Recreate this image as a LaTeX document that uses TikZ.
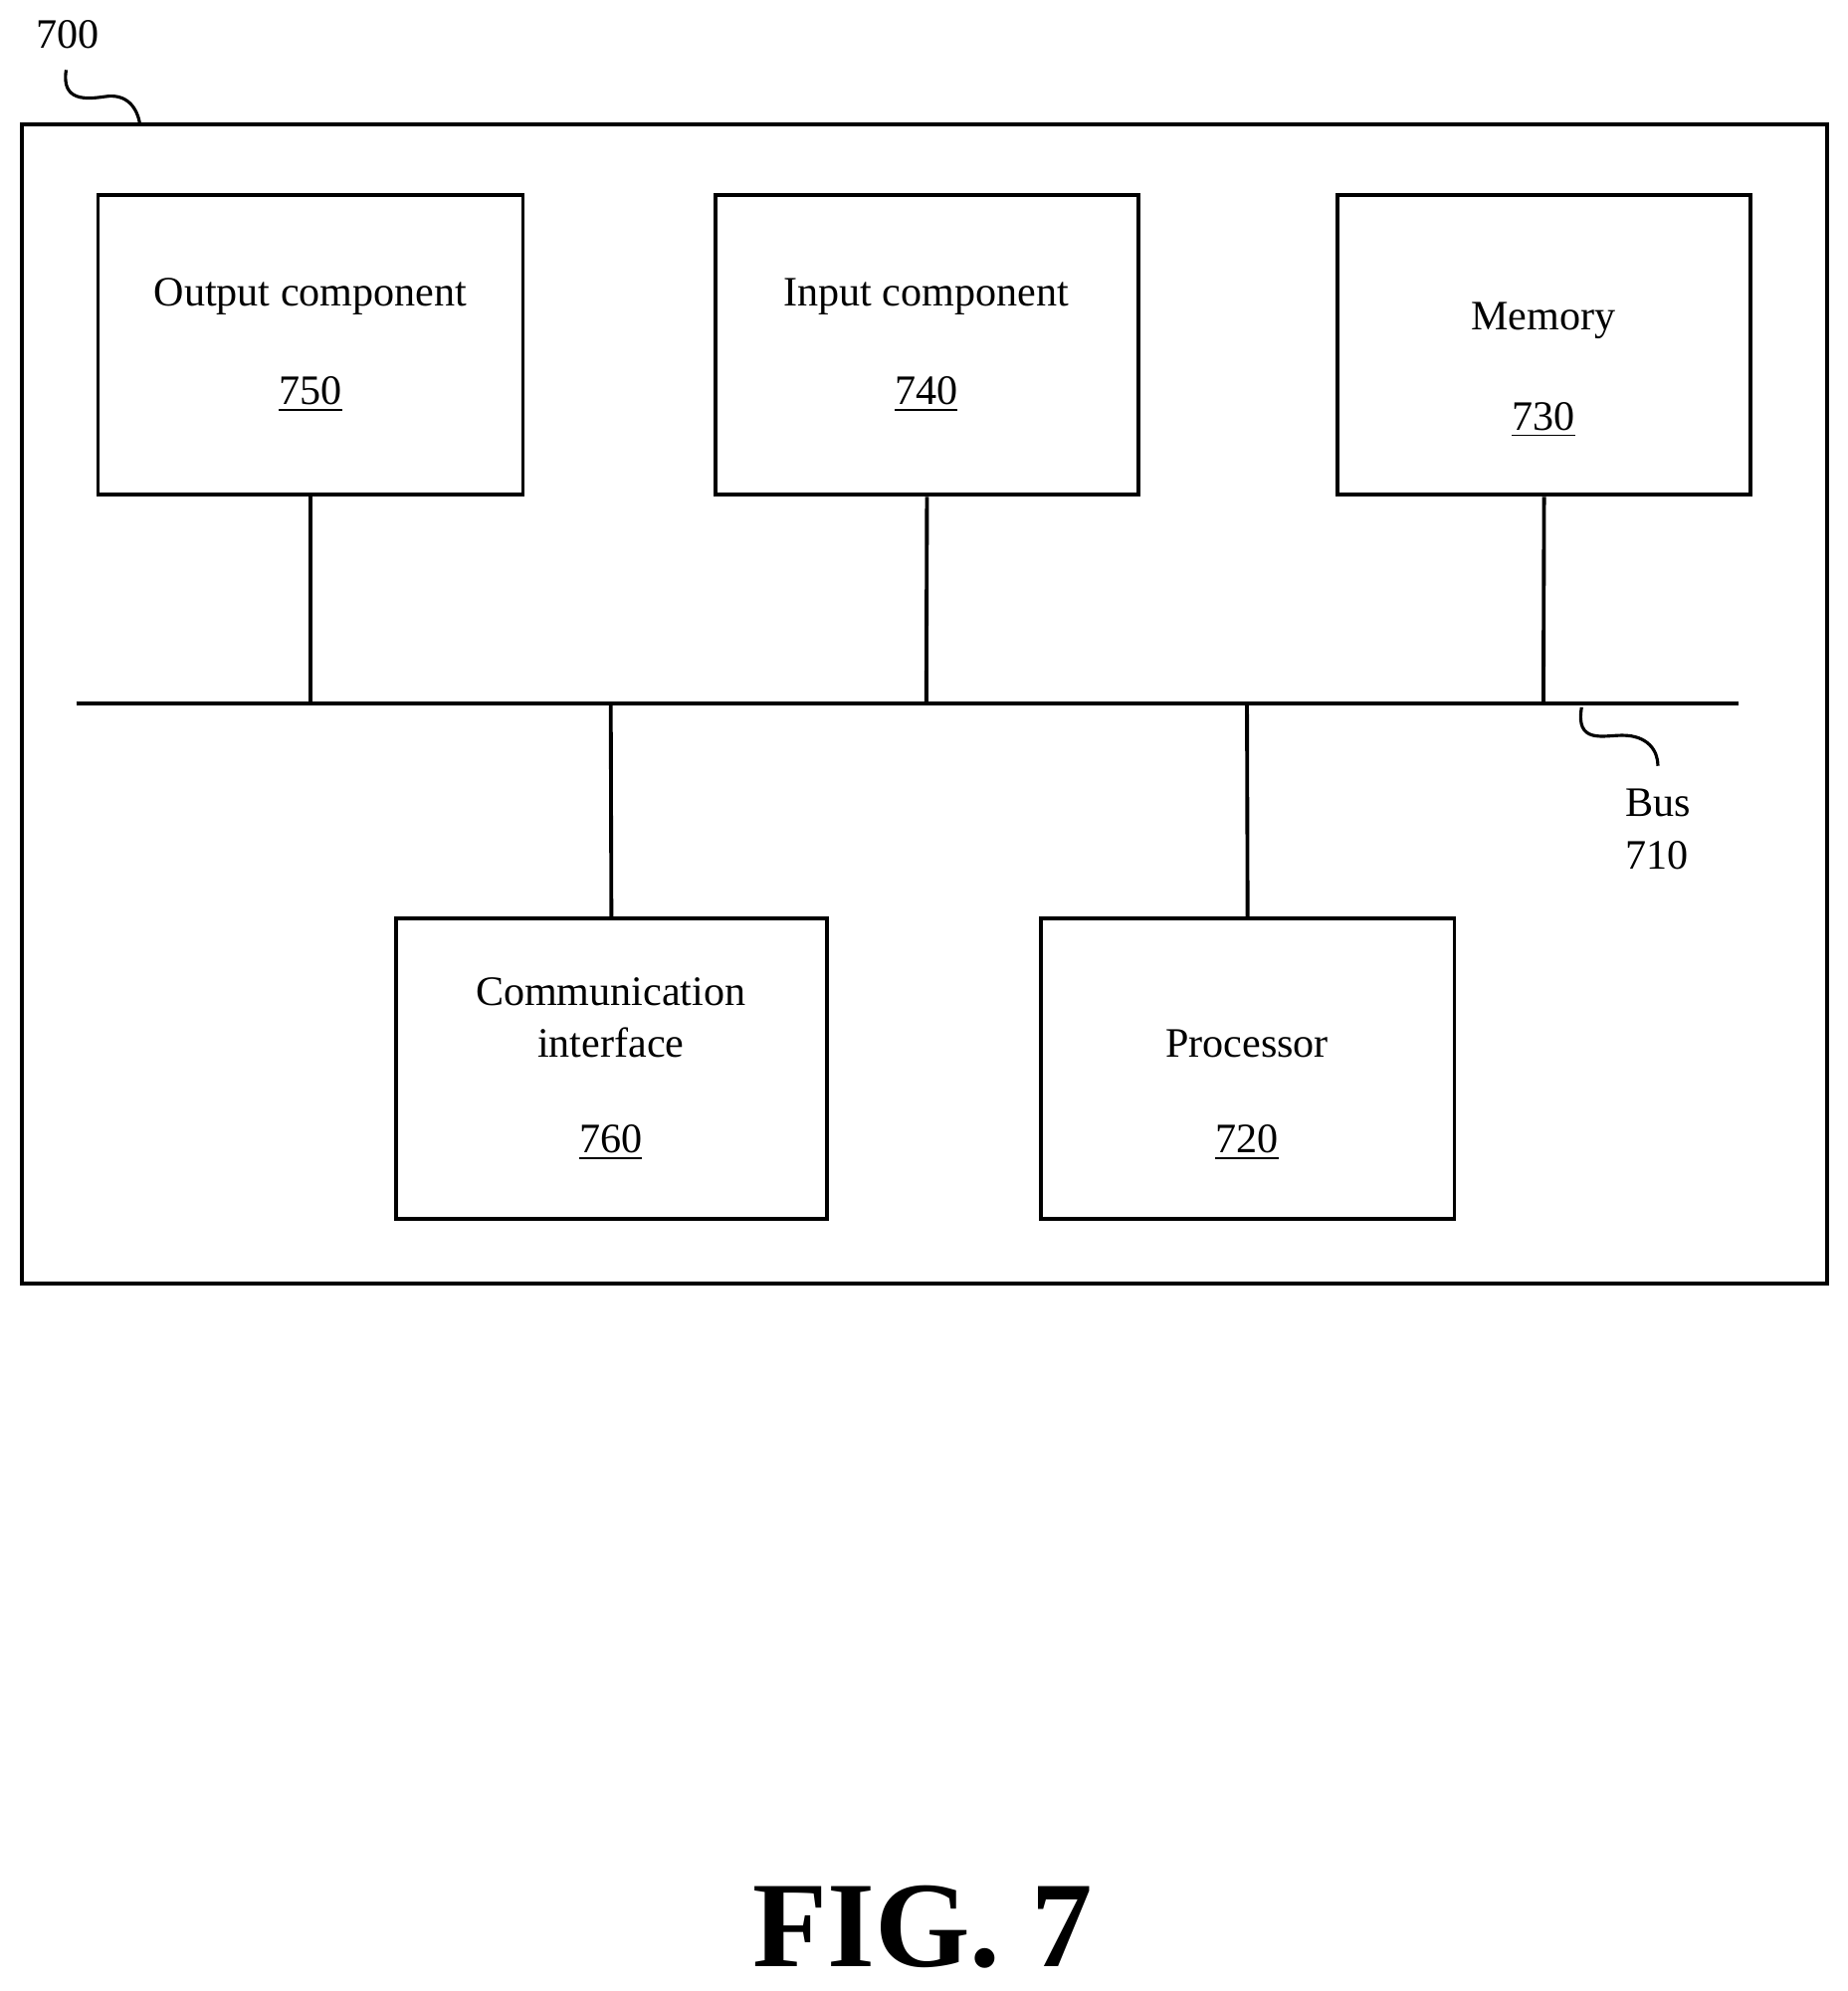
\documentclass[tikz,border=0pt]{standalone}
\usepackage{fontspec}
\setmainfont{Liberation Serif}
\begin{document}
\begin{tikzpicture}[x=0.0128cm,y=-0.0128cm,line width=1.1pt,
  box/.style={draw,rectangle},
  lbl/.style={font=\fontsize{12}{15}\selectfont,align=center,inner sep=0pt}]
\useasboundingbox (0,0) rectangle (1452,1565);
\node[box,minimum width=1419*0.0128cm,minimum height=911*0.0128cm] (sys) at (726.5,553.5) {};
\node[box,minimum width=334*0.0128cm,minimum height=236*0.0128cm] (out) at (244,271) {};
\node[box,minimum width=333*0.0128cm,minimum height=236*0.0128cm] (in) at (728.5,271) {};
\node[box,minimum width=325*0.0128cm,minimum height=236*0.0128cm] (mem) at (1213.5,271) {};
\node[box,minimum width=339*0.0128cm,minimum height=236*0.0128cm] (com) at (480.5,840) {};
\node[box,minimum width=325*0.0128cm,minimum height=236*0.0128cm] (proc) at (980.5,840) {};
\node[lbl] at (244,233) {Output component};
\node[lbl] at (244,310) {\underline{750}};
\node[lbl] at (728,233) {Input component};
\node[lbl] at (728,310) {\underline{740}};
\node[lbl] at (1213,252) {Memory};
\node[lbl] at (1213,330) {\underline{730}};
\node[lbl] at (480,800) {Communication\\interface};
\node[lbl] at (480,898) {\underline{760}};
\node[lbl] at (980,820) {Processor};
\node[lbl] at (980,898) {\underline{720}};
\coordinate (bl) at (60,553); \coordinate (br) at (1366,553);
\draw (bl) -- (br);
\draw (out.south) -- (244,553);
\draw (in.south) -- (728,553);
\draw (mem.south) -- (1213,553);
\draw (com.north) -- (480,553);
\draw (proc.north) -- (980,553);
\coordinate (b1) at (1243,556); \coordinate (b2) at (1303,602);
\draw[line width=0.9pt] (b1) .. controls (1238,585) and (1260,578) .. (1275,578) .. controls (1295,578) and (1303,590) .. (b2);
\node[lbl,align=left] (bus) at (1303,652) {Bus\\710};
\node[lbl] (n700) at (53,27) {700};
\coordinate (s1) at (52,55); \coordinate (s2) at (110,98);
\draw[line width=0.9pt] (s1) .. controls (48,80) and (68,78) .. (82,76) .. controls (100,73) and (108,85) .. (s2);
\node[font=\fontsize{35}{38}\selectfont\bfseries] (fig) at (725,1515) {FIG. 7};
\end{tikzpicture}
\end{document}
